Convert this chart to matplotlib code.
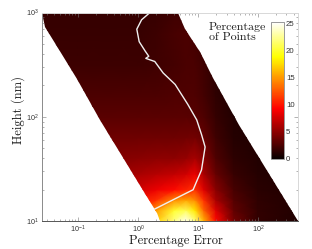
import numpy as np
import matplotlib
matplotlib.use("Agg")
from matplotlib import pyplot as plt
from matplotlib.patches import Polygon

plt.rcParams['font.family'] = ['Liberation Sans', 'DejaVu Sans']
plt.rcParams['mathtext.default'] = 'regular'

# log10 of the bin positions
log_err = [-1.6, -1.0, -0.5, 0.0, 0.3, 0.6, 0.8, 0.95, 1.1, 1.3, 1.6, 2.0, 2.7]
log_height = [1.0, 1.1, 1.2, 1.3, 1.45, 1.6, 1.8, 2.0, 2.2, 2.5, 2.8, 3.0]

# percentage of points, one row per height
percent = [
    [6.0, 6.0, 8.0, 13.0, 17.0, 22.0, 25.0, 22.0, 16.0, 9.5, 4.0, 1.5, 0.8],
    [6.0, 6.0, 8.0, 11.0, 15.0, 20.0, 21.0, 18.0, 13.0, 8.0, 3.3, 1.5, 0.8],
    [6.0, 6.0, 7.5, 9.5, 11.0, 14.5, 15.5, 14.5, 11.0, 6.0, 2.8, 1.4, 0.8],
    [6.0, 6.0, 6.5, 7.5, 8.5, 9.5, 10.5, 11.0, 8.0, 4.8, 2.3, 1.2, 0.8],
    [5.0, 5.0, 5.5, 6.0, 6.5, 7.0, 7.5, 8.5, 6.0, 3.5, 1.7, 1.0, 0.7],
    [4.5, 4.5, 4.5, 4.8, 5.0, 5.0, 5.3, 6.0, 4.7, 2.6, 1.3, 0.9, 0.7],
    [3.8, 3.8, 3.8, 3.8, 3.8, 3.8, 3.9, 4.0, 3.4, 2.0, 1.0, 0.8, 0.7],
    [3.0, 3.0, 3.0, 3.0, 3.0, 3.0, 3.0, 2.9, 2.6, 1.6, 0.9, 0.7, 0.7],
    [2.5, 2.5, 2.5, 2.5, 2.5, 2.6, 2.6, 2.6, 2.2, 1.4, 0.8, 0.7, 0.7],
    [1.9, 1.9, 1.9, 1.9, 2.0, 2.2, 2.4, 2.4, 2.0, 1.2, 0.8, 0.7, 0.7],
    [1.7, 1.7, 1.7, 1.7, 1.9, 2.3, 2.5, 2.2, 1.5, 1.0, 0.8, 0.7, 0.7],
    [1.6, 1.6, 1.6, 1.6, 1.7, 2.0, 1.8, 1.2, 0.9, 0.8, 0.7, 0.7, 0.7],
]

# edges of the region that has any points
left_log_err = [-1.60, -1.55, -1.33, -1.02, -0.63, 0.10, 0.32, 0.37]
left_log_height = [3.0, 2.86, 2.66, 2.36, 1.97, 1.28, 1.08, 1.0]
right_log_err = [2.67, 1.68, 1.25, 1.03, 0.78, 0.67]
right_log_height = [1.0, 1.92, 2.375, 2.62, 2.84, 3.0]

# white curve
line_log_err = [0.20, 0.06, -0.02, 0.02, 0.12, 0.18, 0.13, 0.28, 0.42, 0.62,
                0.83, 0.98, 1.06, 1.12, 1.06, 0.92, 0.28]
line_log_height = [3.00, 2.93, 2.84, 2.72, 2.63, 2.58, 2.56, 2.53, 2.42, 2.31,
                   2.12, 1.97, 1.83, 1.71, 1.49, 1.30, 1.115]

cbar_ticks = [0, 5, 10, 15, 20, 25]

W, H = 312.0, 249.0
fig = plt.figure(figsize=(W / 100, H / 100), dpi=100)
ax = fig.add_axes([41.5 / W, 1 - 221.0 / H, (298 - 41.5) / W, (221.0 - 12.5) / H])

X, Y = np.meshgrid(10.0 ** np.array(log_err), 10.0 ** np.array(log_height))
mesh = ax.pcolormesh(X, Y, np.array(percent), cmap='hot', vmin=0, vmax=25.3,
                     shading='gouraud', rasterized=True)
ax.set_xscale('log')
ax.set_yscale('log')
ax.set_xlim(10 ** -1.61, 10 ** 2.67)
ax.set_ylim(10, 1000)

outline = list(zip(10.0 ** np.array(left_log_err), 10.0 ** np.array(left_log_height)))
outline += list(zip(10.0 ** np.array(right_log_err), 10.0 ** np.array(right_log_height)))
region = Polygon(outline, closed=True, transform=ax.transData, fc='none', ec='none')
ax.add_patch(region)
mesh.set_clip_path(region)

ax.plot(10.0 ** np.array(line_log_err), 10.0 ** np.array(line_log_height),
        color='#f0f0f0', lw=1.0, solid_joinstyle='round')

for name, col in [('left', '#8a8a8a'), ('bottom', '#555555'),
                  ('top', '#d8d8d8'), ('right', '#d8d8d8')]:
    ax.spines[name].set_color(col)
    ax.spines[name].set_linewidth(0.7)
ax.tick_params(which='both', direction='in', top=True, right=True, width=0.4,
               color='#777777', labelsize=5.2, labelcolor='#333333')
ax.tick_params(which='major', length=3, pad=2.0)
ax.tick_params(which='minor', length=1.6)
ax.xaxis.set_ticks([0.1, 1, 10, 100])

serif = dict(family='cmr10', color='#1a1a1a')
fig.text(176 / W, 1 - 241 / H, 'Percentage Error', ha='center', va='center',
         fontsize=9.0, **serif)
fig.text(18.5 / W, 1 - 110 / H, 'Height (nm)', ha='center', va='center',
         rotation=90, fontsize=9.0, **serif)
fig.text(209 / W, 1 - 32 / H, 'Percentage\nof Points', ha='left', va='center',
         fontsize=8.6, linespacing=0.95, **serif)

cax = fig.add_axes([271 / W, 1 - 158.5 / H, 13 / W, (158.5 - 22) / H])
cb = fig.colorbar(mesh, cax=cax, ticks=cbar_ticks)
cb.outline.set_edgecolor('#888888')
cb.outline.set_linewidth(0.6)
cax.tick_params(length=0, pad=1.5, labelsize=5.6, labelcolor='#333333')

fig.savefig('out.png', dpi=100)
